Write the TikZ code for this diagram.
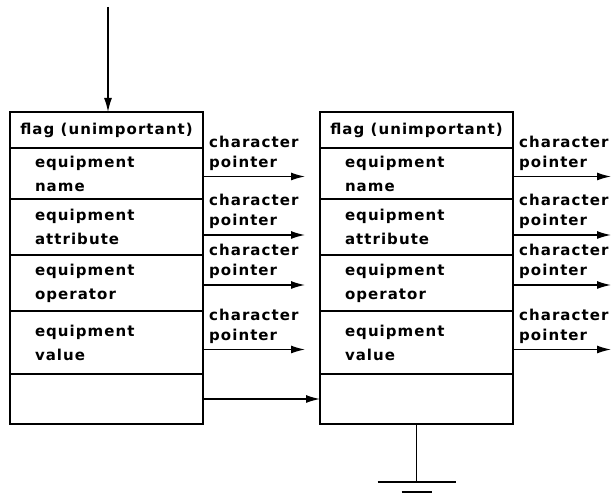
\documentclass[tikz,border=0pt]{standalone}
\usepackage{fontspec}
\setmainfont{DejaVu Sans}
\newfontfamily\recfamily[LetterSpace=7]{DejaVu Sans}
\usetikzlibrary{arrows.meta, positioning, calc}
\tikzset{
  cell/.style={draw, line width=1.3pt, minimum width=193pt, inner ysep=0pt, outer sep=0pt,
    font=\recfamily\bfseries\fontsize{15}{24}\selectfont},
  field/.style={cell, text width=143pt, inner xsep=25pt, align=left},
  flagcell/.style={cell, inner xsep=2pt, align=center, minimum height=36pt},
  ptr/.style={-{Latex[length=14pt,width=8pt]}, line width=1.4pt},
  ptrlabel/.style={anchor=south west, inner sep=2pt, align=left,
    font=\recfamily\bfseries\fontsize{15}{20}\selectfont}
}
% one record: #1 name prefix, #2 left edge, #3 pointer length
\newcommand{\record}[3]{%
  \node[flagcell, anchor=north west] (#1-flag) at (#2,385) {flag (unimportant)};
  \node[field, minimum height=51pt, below=0pt of #1-flag] (#1-name) {equipment\\name};
  \node[field, minimum height=56pt, below=0pt of #1-name] (#1-attr) {equipment\\attribute};
  \node[field, minimum height=56pt, below=0pt of #1-attr] (#1-op) {equipment\\operator};
  \node[field, minimum height=63pt, below=0pt of #1-op] (#1-value) {equipment\\value};
  \node[field, minimum height=50pt, below=0pt of #1-value] (#1-link) {};
  % character pointers
  \foreach \f/\d in {name/-3, attr/-8, op/-2, value/-7} {
    \coordinate (#1-\f-tip) at ($(#1-\f.east)+(#3,\d)$);
    \draw[ptr] (#1-\f.east |- #1-\f-tip) -- (#1-\f-tip);
    \node[ptrlabel] (#1-\f-lbl) at ($(#1-\f.east |- #1-\f-tip)+(4,4)$) {character\\pointer};
  }
}

\begin{document}
\begin{tikzpicture}[x=1pt, y=1pt]
\useasboundingbox (0,0) rectangle (612,497);

\record{L}{10}{102}
\record{R}{320}{98}

% entry pointer
\coordinate (entry) at (108,490);
\draw[ptr] (entry) -- (L-flag.north -| entry);

% next record
\draw[ptr] (L-link) -- (R-link);

% ground
\coordinate (gnd) at ($(R-link.south)+(0,-58)$);
\draw[line width=1.3pt] (R-link.south) -- (gnd);
\draw[line width=1.3pt] ($(gnd)+(-39,0)$) -- ($(gnd)+(39,0)$);
\draw[line width=1.3pt] ($(gnd)+(-15,-10)$) -- ($(gnd)+(15,-10)$);

\end{tikzpicture}
\end{document}
